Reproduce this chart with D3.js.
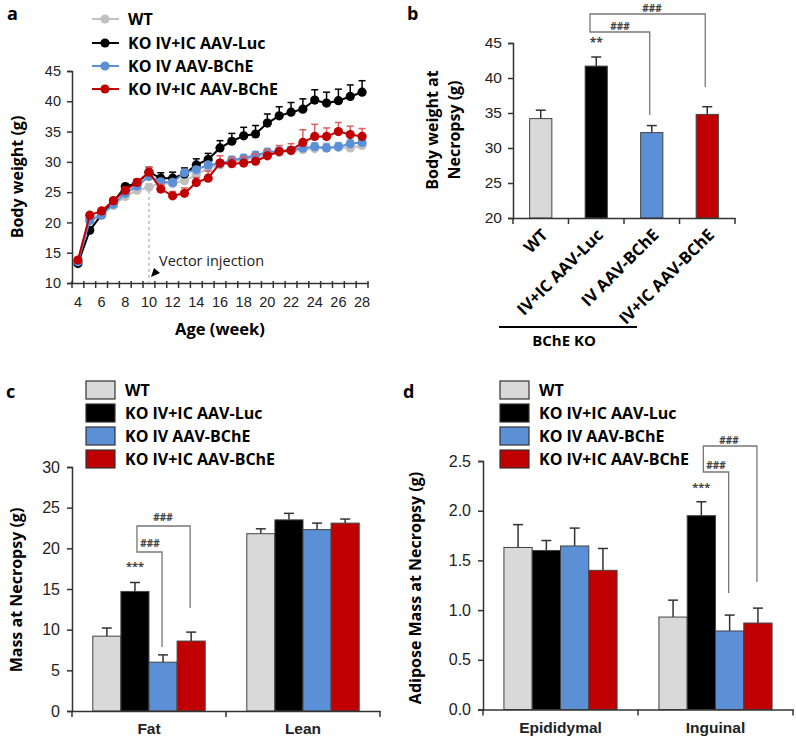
<!DOCTYPE html>
<html>
<head>
<meta charset="utf-8">
<script src="https://cdn.jsdelivr.net/npm/d3@7"></script>
<style>
  body { margin: 0; background: #fff; }
  svg { display: block; font-family: "Open Sans", sans-serif; }
  .tick text { fill: #222; }
</style>
</head>
<body>
<svg id="chart" width="796" height="743"></svg>
<script>
// ---- data ----
const groups = ['WT', 'KO IV+IC AAV-Luc', 'KO IV AAV-BChE', 'KO IV+IC AAV-BChE'];
const lineColors = ['#c0c0c0', '#000000', '#5b8fd6', '#c00000'];
const barColors = ['#d9d9d9', '#000000', '#5b8fd6', '#c00000'];

// panel a: body weight by week
const weeks = [4, 5, 6, 7, 8, 9, 10, 11, 12, 13, 14, 15, 16, 17, 18, 19, 20, 21, 22, 23, 24, 25, 26, 27, 28];
const wtWeight   = [13.6, 20.5, 21.5, 22.8, 24.3, 25.3, 25.8, 26.5, 26.4, 26.9, 27.8, 29.0, 29.5, 30.0, 30.3, 30.8, 31.2, 31.5, 31.8, 32.0, 32.2, 32.3, 32.4, 32.3, 32.7];
const lucWeight  = [13.2, 18.7, 21.3, 23.4, 25.9, 26.5, 28.3, 27.3, 27.3, 28.0, 29.5, 30.4, 32.3, 33.4, 34.3, 34.6, 36.4, 37.6, 38.2, 38.7, 40.2, 39.7, 40.1, 40.8, 41.5];
const ivWeight   = [13.5, 20.3, 21.2, 23.0, 24.8, 26.0, 27.6, 26.7, 26.6, 28.2, 28.7, 29.5, 29.7, 30.3, 30.6, 31.1, 31.6, 31.8, 31.9, 32.3, 32.5, 32.3, 32.5, 33.0, 33.2];
const ivicWeight = [13.8, 21.2, 21.9, 23.6, 25.3, 26.6, 28.3, 25.5, 24.4, 24.8, 26.6, 27.3, 29.8, 29.7, 29.8, 30.1, 31.0, 31.7, 31.9, 33.2, 34.2, 34.2, 35.0, 34.5, 34.2];
const wtWeightErr   = [0.3, 0.5, 0.4, 0.5, 0.5, 0.5, 0.6, 0.6, 0.6, 0.7, 0.7, 0.7, 0.7, 0.7, 0.7, 0.7, 0.7, 0.7, 0.7, 0.8, 0.8, 0.8, 0.8, 0.8, 0.8];
const lucWeightErr  = [0.3, 0.5, 0.4, 0.5, 0.5, 0.6, 0.8, 0.9, 1.0, 1.0, 1.0, 1.0, 1.2, 1.3, 1.4, 1.4, 1.5, 1.5, 1.6, 1.7, 1.7, 1.8, 1.9, 1.9, 1.9];
const ivWeightErr   = [0.3, 0.4, 0.4, 0.4, 0.4, 0.5, 0.5, 0.5, 0.5, 0.5, 0.5, 0.5, 0.6, 0.6, 0.6, 0.6, 0.6, 0.6, 0.6, 0.6, 0.6, 0.6, 0.6, 0.6, 0.6];
const ivicWeightErr = [0.3, 0.4, 0.4, 0.4, 0.5, 0.6, 0.8, 0.8, 0.7, 0.9, 0.8, 1.2, 1.2, 1.0, 1.0, 1.2, 1.0, 1.0, 1.1, 2.1, 2.0, 1.4, 1.5, 1.4, 1.3];

// panel b: body weight at necropsy
const necropsyLabels = ['WT', 'IV+IC AAV-Luc', 'IV AAV-BChE', 'IV+IC AAV-BChE'];
const necropsyWeight = [34.2, 41.7, 32.2, 34.8];
const necropsyErr = [1.2, 1.3, 1.0, 1.1];

// panel c: fat / lean mass
const massCats = ['Fat', 'Lean'];
const massValues = [[9.2, 14.7, 6.0, 8.6], [21.8, 23.5, 22.3, 23.1]];
const massErr = [[1.0, 1.1, 0.9, 1.1], [0.6, 0.8, 0.8, 0.5]];

// panel d: adipose mass
const adiposeCats = ['Epididymal', 'Inguinal'];
const adiposeValues = [[1.63, 1.60, 1.645, 1.40], [0.93, 1.95, 0.79, 0.87]];
const adiposeErr = [[0.23, 0.10, 0.18, 0.22], [0.17, 0.14, 0.16, 0.15]];

const svg = d3.select('#chart');
const axisColor = '#333';

function styleAxis(g, size) {
  g.select('.domain').attr('stroke', axisColor).attr('stroke-width', 1.5);
  g.selectAll('.tick line').attr('stroke', axisColor).attr('stroke-width', 1.5);
  g.selectAll('.tick text').attr('font-size', size || 14);
}

function panelLabel(x, y, t) {
  svg.append('text').attr('x', x).attr('y', y).attr('font-size', 18)
    .attr('font-weight', 'bold').text(t);
}

function yTitle(x, y, lines, size) {
  const t = svg.append('text').attr('transform', `translate(${x},${y}) rotate(-90)`)
    .attr('text-anchor', 'middle').attr('font-weight', 'bold').attr('font-size', size || 15);
  lines.forEach((l, i) => {
    t.append('tspan').attr('x', 0).attr('dy', i === 0 ? 0 : '1.35em').text(l);
  });
}

// vertical error bar with cap (upper only)
function errBar(g, x, y0, y1, color, capW) {
  g.append('line').attr('x1', x).attr('x2', x).attr('y1', y0).attr('y2', y1)
    .attr('stroke', color).attr('stroke-width', 1.5);
  g.append('line').attr('x1', x - capW).attr('x2', x + capW).attr('y1', y1).attr('y2', y1)
    .attr('stroke', color).attr('stroke-width', 1.5);
}

// significance bracket: two nested horizontal arms joined on the left
function bracket(g, xl, yTop, xTop, yTopEnd, yLow, xLow, yLowEnd) {
  g.append('path')
    .attr('d', `M${xTop},${yTopEnd}V${yTop}H${xl}V${yLow}H${xLow}V${yLowEnd}`)
    .attr('fill', 'none').attr('stroke', '#777').attr('stroke-width', 1.3);
}

function sigText(g, x, y, t, size) {
  g.append('text').attr('x', x).attr('y', y).attr('text-anchor', 'middle')
    .attr('font-size', size || 11).attr('fill', '#444').attr('font-weight', 'bold').text(t);
}

// ================= panel a =================
(function () {
  const g = svg.append('g');
  const x = d3.scaleBand().domain(weeks).range([72, 368]).padding(0);
  const y = d3.scaleLinear().domain([10, 45]).range([283, 71]);

  const ya = g.append('g').attr('transform', 'translate(72,0)')
    .call(d3.axisLeft(y).tickValues([10, 15, 20, 25, 30, 35, 40, 45]).tickSize(5).tickPadding(6));
  styleAxis(ya, 14.5);

  const xa = g.append('g').attr('transform', 'translate(0,283)')
    .call(d3.axisBottom(x).tickSize(0).tickPadding(14)
      .tickFormat(d => (d % 2 === 0 ? d : '')));
  styleAxis(xa, 14.5);
  // tick marks at category boundaries
  const bounds = weeks.map(w => x(w)).concat([x(weeks[weeks.length - 1]) + x.bandwidth()]);
  xa.selectAll('.bt').data(bounds).join('line').attr('class', 'bt')
    .attr('x1', d => d).attr('x2', d => d).attr('y1', -2).attr('y2', 5)
    .attr('stroke', axisColor).attr('stroke-width', 1.5);

  g.append('text').attr('x', 220).attr('y', 335).attr('text-anchor', 'middle')
    .attr('font-weight', 'bold').attr('font-size', 16.5).text('Age (week)');
  yTitle(23, 177, ['Body weight (g)'], 16);

  // vector injection marker
  const xi = x(10) + x.bandwidth() / 2;
  g.append('line').attr('x1', xi).attr('x2', xi).attr('y1', 191).attr('y2', 283)
    .attr('stroke', '#bbb').attr('stroke-width', 1.5).attr('stroke-dasharray', '3,3');
  g.append('path').attr('d', 'M151,277 L154,268 L160,273 Z').attr('fill', '#000');
  g.append('text').attr('x', 159).attr('y', 266).attr('font-size', 14.5).attr('fill', '#222')
    .text('Vector injection');

  const series = [wtWeight, lucWeight, ivWeight, ivicWeight];
  const errs = [wtWeightErr, lucWeightErr, ivWeightErr, ivicWeightErr];
  const errColors = ['#c8c8c8', '#000', '#7da6e0', '#e06060'];
  const cx = w => x(w) + x.bandwidth() / 2;
  const line = d3.line().x((d, i) => cx(weeks[i])).y(d => y(d));

  series.forEach((s, k) => {
    const sg = g.append('g');
    s.forEach((v, i) => errBar(sg, cx(weeks[i]), y(v), y(v + errs[k][i]), errColors[k], 3.5));
    sg.append('path').datum(s).attr('d', line).attr('fill', 'none')
      .attr('stroke', lineColors[k]).attr('stroke-width', 2);
    sg.selectAll('circle').data(s).join('circle')
      .attr('cx', (d, i) => cx(weeks[i])).attr('cy', d => y(d)).attr('r', 4.6)
      .attr('fill', lineColors[k]);
  });

  // legend
  const ly = [19, 43, 66, 89];
  groups.forEach((name, k) => {
    g.append('line').attr('x1', 92).attr('x2', 119).attr('y1', ly[k]).attr('y2', ly[k])
      .attr('stroke', lineColors[k]).attr('stroke-width', 2);
    g.append('circle').attr('cx', 105).attr('cy', ly[k]).attr('r', 4.6).attr('fill', lineColors[k]);
    g.append('text').attr('x', 128).attr('y', ly[k] + 5.5).attr('font-size', 16)
      .attr('font-weight', 'bold').text(name);
  });
  panelLabel(7, 20, 'a');
})();

// ================= panel b =================
(function () {
  const g = svg.append('g');
  const x = d3.scaleBand().domain(necropsyLabels).range([513, 735]).paddingInner(0.6).paddingOuter(0.3);
  const band = d3.scaleBand().domain(necropsyLabels).range([513, 735]);
  const y = d3.scaleLinear().domain([20, 45]).range([218, 43]);

  const ya = g.append('g').attr('transform', 'translate(513,0)')
    .call(d3.axisLeft(y).tickValues([20, 25, 30, 35, 40, 45]).tickSize(5).tickPadding(6));
  styleAxis(ya, 15.5);

  necropsyWeight.forEach((v, i) => {
    const bx = x(necropsyLabels[i]);
    errBar(g, bx + x.bandwidth() / 2, y(v), y(v + necropsyErr[i]), '#333', 5);
    g.append('rect').attr('x', bx).attr('width', x.bandwidth()).attr('y', y(v))
      .attr('height', y(20) - y(v)).attr('fill', barColors[i])
      .attr('stroke', '#444').attr('stroke-width', 1);
  });

  const xa = g.append('g').attr('transform', 'translate(0,218)')
    .call(d3.axisBottom(band).tickSize(0).tickFormat(''));
  styleAxis(xa);
  const bounds = necropsyLabels.map(c => band(c)).concat([735]);
  xa.selectAll('.bt').data(bounds).join('line').attr('class', 'bt')
    .attr('x1', d => d).attr('x2', d => d).attr('y1', 0).attr('y2', 6)
    .attr('stroke', axisColor).attr('stroke-width', 1.5);

  necropsyLabels.forEach(l => {
    const cx = band(l) + band.bandwidth() / 2;
    g.append('text').attr('transform', `translate(${cx + 8},${236}) rotate(-45)`)
      .attr('text-anchor', 'end').attr('font-size', 16.5).attr('font-weight', 'bold').text(l);
  });

  g.append('line').attr('x1', 499).attr('x2', 637).attr('y1', 327).attr('y2', 327)
    .attr('stroke', '#000').attr('stroke-width', 2);
  g.append('text').attr('x', 564).attr('y', 346).attr('text-anchor', 'middle')
    .attr('font-weight', 'bold').attr('font-size', 15).text('BChE KO');

  yTitle(438, 130, ['Body weight at', 'Necropsy (g)'], 16);

  const cx = i => x(necropsyLabels[i]) + x.bandwidth() / 2;
  sigText(g, cx(1), 47, '**', 12);
  bracket(g, 590, 14, cx(3) - 2, 87, 32, cx(2) - 2, 115);
  sigText(g, 620, 30, '###', 10);
  sigText(g, 652, 12, '###', 10);
  panelLabel(407, 20, 'b');
})();

// grouped bar panel (c and d)
function groupedPanel(opts) {
  const g = svg.append('g');
  const x0 = d3.scaleBand().domain(opts.cats).range([opts.x0, opts.x1]).paddingInner(0.27).paddingOuter(0.135);
  const band = d3.scaleBand().domain(opts.cats).range([opts.x0, opts.x1]);
  const x1 = d3.scaleBand().domain(d3.range(4)).range([0, x0.bandwidth()]);
  const y = d3.scaleLinear().domain(opts.yDomain).range([opts.yBase, opts.yTop]);

  const ya = g.append('g').attr('transform', `translate(${opts.x0},0)`)
    .call(d3.axisLeft(y).tickValues(opts.ticks).tickSize(5).tickPadding(7).tickFormat(opts.fmt));
  styleAxis(ya, 16);

  opts.values.forEach((vals, ci) => {
    vals.forEach((v, k) => {
      const bx = x0(opts.cats[ci]) + x1(k);
      errBar(g, bx + x1.bandwidth() / 2, y(v), y(v + opts.errs[ci][k]), '#333', 5);
      g.append('rect').attr('x', bx).attr('width', x1.bandwidth()).attr('y', y(v))
        .attr('height', opts.yBase - y(v)).attr('fill', barColors[k])
        .attr('stroke', '#444').attr('stroke-width', 1);
    });
  });

  const xa = g.append('g').attr('transform', `translate(0,${opts.yBase})`)
    .call(d3.axisBottom(band).tickSize(0).tickPadding(12));
  styleAxis(xa);
  xa.selectAll('.tick text').attr('font-weight', 'bold').attr('font-size', 15.5).attr('fill', '#000');
  const bounds = opts.cats.map(c => band(c)).concat([opts.x1]);
  xa.selectAll('.bt').data(bounds).join('line').attr('class', 'bt')
    .attr('x1', d => d).attr('x2', d => d).attr('y1', 0).attr('y2', 6)
    .attr('stroke', axisColor).attr('stroke-width', 1.5);

  // legend
  const ly = [390, 413, 436, 459];
  groups.forEach((name, k) => {
    g.append('rect').attr('x', opts.legX).attr('y', ly[k] - 9).attr('width', 29).attr('height', 18)
      .attr('fill', barColors[k]).attr('stroke', '#333').attr('stroke-width', 1.2);
    g.append('text').attr('x', opts.legX + 39).attr('y', ly[k] + 5.5).attr('font-size', 16)
      .attr('font-weight', 'bold').text(name);
  });

  const sg = opts.sigCat;
  const bc = k => x0(opts.cats[sg]) + x1(k) + x1.bandwidth() / 2;
  return { g, y, bc };
}

// ================= panel c =================
(function () {
  const p = groupedPanel({
    cats: massCats, x0: 72, x1: 380, yBase: 711, yTop: 467, yDomain: [0, 30],
    ticks: [0, 5, 10, 15, 20, 25, 30], fmt: d3.format('d'),
    values: massValues, errs: massErr, legX: 86, sigCat: 0
  });
  yTitle(22, 590, ['Mass at Necropsy (g)'], 16);
  sigText(p.g, p.bc(1), 570, '***', 11);
  bracket(p.g, p.bc(1) + 2, 526, p.bc(3) - 1, 608, 552, p.bc(2) - 1, 647);
  sigText(p.g, 150, 547, '###', 10);
  sigText(p.g, 163, 521, '###', 10);
  panelLabel(6, 398, 'c');
})();

// ================= panel d =================
(function () {
  const p = groupedPanel({
    cats: adiposeCats, x0: 483, x1: 793, yBase: 709.5, yTop: 461, yDomain: [0, 2.5],
    ticks: [0, 0.5, 1.0, 1.5, 2.0, 2.5], fmt: d3.format('.1f'),
    values: adiposeValues, errs: adiposeErr, legX: 500, sigCat: 1
  });
  yTitle(421, 588, ['Adipose Mass at Necropsy (g)'], 16);
  sigText(p.g, p.bc(1), 491, '***', 11);
  bracket(p.g, p.bc(1) + 2, 446, p.bc(3) - 1, 582, 472, p.bc(2) - 1, 593);
  sigText(p.g, 716, 469, '###', 10);
  sigText(p.g, 729, 444, '###', 10);
  panelLabel(403, 398, 'd');
})();
</script>
</body>
</html>
